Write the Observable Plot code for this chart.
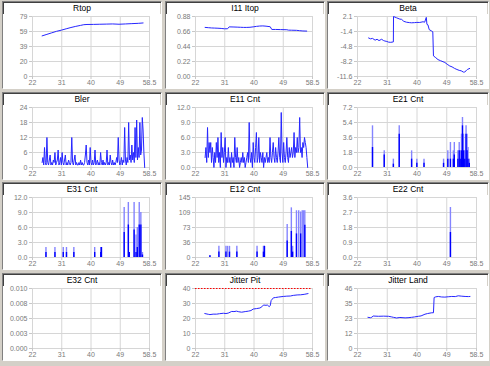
<!DOCTYPE html>
<html><head><meta charset="utf-8">
<script src="https://cdn.jsdelivr.net/npm/d3@7"></script>
<script src="https://cdn.jsdelivr.net/npm/@observablehq/plot@0.6"></script>
<style>
html,body{margin:0;padding:0;background:#d4d0c8;}
#root{position:relative;width:490px;height:366px;background:#d4d0c8;overflow:hidden;font-family:"Liberation Sans",Arial,sans-serif;}
.panel{position:absolute;background:#fff;box-sizing:border-box;border:1px solid;border-color:#808080 #ffffff #ffffff #808080;box-shadow:inset 1px 1px 0 #404040, inset -1px -1px 0 #d4d0c8;}
.title{height:12px;line-height:13px;font-size:8.5px;text-align:center;color:#000;}
.panel svg{display:block;}
</style></head><body><div id="root"></div>
<script>
// ---- axis labels ----
const xLabels = ["22", "31", "40", "49", "58.5"];
const xMin = 22, xMax = 58.5;

const titles = ["Rtop", "I11 Itop", "Beta", "Bler", "E11 Cnt", "E21 Cnt", "E31 Cnt", "E12 Cnt", "E22 Cnt", "E32 Cnt", "Jitter Pit", "Jitter Land"];
const yDomains = [[0, 79], [0, 0.88], [-11.6, 2.1], [0, 24], [0, 12], [0, 7.2], [0, 12], [0, 145], [0, 3.6], [0, 0.01], [0, 40], [0, 46]];
const yTickLabels = [
  ["0", "20", "39", "59", "79"],
  ["0.00", "0.22", "0.44", "0.66", "0.88"],
  ["-11.6", "-8.2", "-4.8", "-1.4", "2.1"],
  ["0", "6", "12", "18", "24"],
  ["0.0", "3.0", "6.0", "9.0", "12.0"],
  ["0.0", "1.8", "3.6", "5.4", "7.2"],
  ["0.0", "3.0", "6.0", "9.0", "12.0"],
  ["0", "36", "73", "109", "145"],
  ["0.0", "0.9", "1.8", "2.7", "3.6"],
  ["0.000", "0.003", "0.005", "0.008", "0.010"],
  ["0", "10", "20", "30", "40"],
  ["0", "12", "23", "35", "46"]
];

// ---- series ----
const rtopX = [25, 26.5, 28, 29.5, 31, 32.5, 34, 35.5, 37, 38, 39, 41, 43, 45, 47, 49, 51, 53, 55, 56.5];
const rtopY = [53.5, 55.5, 57.5, 59.5, 61, 62.8, 64.5, 66, 67.3, 68.2, 68.5, 68.6, 68.8, 69, 69.2, 68.8, 69.2, 69.6, 70, 70.5];

const itopX = [25, 26, 27, 28, 29, 30, 31, 32, 32.5, 34, 35, 36, 37, 38, 39, 40, 41, 42, 43, 44, 45.3, 45.8, 47, 48.5, 50.5, 51, 52, 53.5, 54.5, 55.5, 56.7];
const itopY = [0.72, 0.716, 0.712, 0.71, 0.708, 0.705, 0.70, 0.70, 0.728, 0.726, 0.724, 0.722, 0.72, 0.72, 0.722, 0.728, 0.735, 0.74, 0.742, 0.738, 0.73, 0.69, 0.69, 0.688, 0.686, 0.68, 0.679, 0.677, 0.672, 0.668, 0.666];

const betaX = [25.4, 26, 26.6, 27.4, 28, 28.6, 29.4, 30, 30.4, 31, 31.5, 32.2, 33, 33.05, 34, 35, 35.5, 36.2, 37, 38, 38.6, 39.5, 40.2, 41.1, 42.1, 42.6, 43.1, 43.3, 43.6, 44, 44.7, 45.1, 45.3, 46, 46.7, 47.5, 48.8, 49.5, 50.3, 51, 51.8, 52.5, 53.2, 53.8, 54.5, 54.9, 55.3, 55.7, 56.4];
const betaY = [-2.8, -3.0, -2.9, -3.3, -3.1, -3.4, -3.1, -3.4, -3.5, -3.6, -3.75, -3.8, -3.7, 2.1, 1.8, 1.5, 1.46, 1.0, 0.8, 0.7, 0.66, 0.7, 0.75, 0.74, 0.9, 0.8, 1.9, 0.3, 0.2, -0.9, -1.2, -1.4, -6.9, -7.3, -7.75, -8.0, -8.4, -8.8, -9.2, -9.4, -9.76, -10.0, -10.2, -10.3, -10.6, -10.56, -10.3, -10.0, -9.76];

const sampleStart = 25, sampleStep = 0.25;
const blerY = [2, 4, 1, 8, 2, 1, 12, 2, 1, 3, 5, 1, 2, 1, 3, 2, 6, 1, 2, 3, 7, 1, 2, 4, 1, 6, 2, 1, 3, 5, 1, 2, 1, 3, 2, 1, 2, 12, 2, 1, 3, 5, 1, 2, 1, 1, 2, 1, 3, 1, 2, 1, 1, 2, 5, 9, 2, 1, 3, 1, 8, 2, 1, 3, 1, 2, 7, 1, 2, 3, 1, 2, 1, 6, 2, 1, 3, 1, 2, 1, 2, 7, 1, 2, 1, 5, 2, 1, 3, 1, 2, 1, 2, 4, 2, 12, 3, 1, 2, 4, 1, 3, 2, 16, 3, 1, 4, 2, 18, 3, 5, 2, 9, 3, 6, 2, 16, 4, 19, 3, 8, 4, 18, 5, 7, 20, 15, 6, 0];
const e11Y = [2, 4, 1, 8, 2, 5, 3, 5, 1, 4, 2, 0, 3, 1, 5, 2, 6, 1, 3, 0, 7, 2, 4, 1, 3, 6, 0, 2, 1, 4, 1, 2, 0, 3, 1, 2, 0, 6, 2, 1, 4, 1, 2, 0, 1, 2, 1, 3, 1, 2, 0, 1, 2, 3, 1, 9, 2, 1, 3, 0, 5, 2, 1, 4, 7, 1, 2, 6, 1, 3, 2, 1, 3, 0, 2, 1, 2, 3, 1, 2, 1, 6, 2, 1, 3, 5, 2, 1, 4, 2, 1, 3, 6, 2, 1, 11, 3, 1, 5, 2, 1, 3, 6, 2, 1, 4, 2, 3, 4, 2, 3, 7, 2, 4, 3, 6, 3, 4, 10, 3, 4, 2, 5, 4, 6, 5, 4, 2, 0];

// spikes: position, full height, darker (overlapped) height
const e21X = [26.6, 30.2, 33.0, 34.8, 38.6, 40.2, 42.4, 48.4, 49.7, 50.5, 51.4, 51.7, 52.8, 53.2, 53.5, 53.9, 54.2, 54.5, 54.9, 55.3, 55.6, 55.9, 56.3];
const e21Top = [5.0, 2.0, 1.0, 5.0, 2.0, 1.0, 1.0, 1.0, 2.0, 3.0, 2.0, 3.0, 2.0, 3.0, 2.0, 4.0, 6.0, 4.0, 2.0, 5.0, 4.0, 2.4, 1.0];
const e21Dark = [2.4, 1.5, 0.4, 4.0, 1.0, 0.5, 0.5, 0.5, 1.0, 1.0, 1.0, 1.5, 1.0, 2.0, 1.0, 2.0, 5.0, 2.0, 1.0, 4.0, 2.0, 1.0, 0.5];

const e31X = [26.2, 29.0, 31.6, 32.6, 34.9, 41.4, 43.3, 43.5, 50.6, 51.9, 52.2, 53.7, 54.3, 54.7, 55.3, 55.8, 56.3];
const e31Top = [2, 2, 2, 2, 2, 2, 2, 2, 10, 11, 1, 11, 4.5, 6, 11, 9, 1];
const e31Dark = [1, 1, 1, 1, 1, 1, 1, 2, 5, 6.5, 1, 5.5, 1, 2, 6.5, 6.5, 0.5];

const e12X = [26.5, 29.3, 31.5, 32.0, 32.6, 34.9, 41.2, 43.2, 43.5, 50.6, 51.9, 52.3, 53.5, 54.2, 54.8, 55.3, 55.7, 56.1];
const e12Top = [4, 27, 27, 27, 27, 27, 27, 27, 27, 80, 120, 27, 113, 113, 110, 113, 113, 113];
const e12Dark = [4, 13, 13, 0, 13, 13, 13, 13, 27, 40, 63, 13, 57, 0, 57, 0, 0, 78];

const e22X = [50.5];
const e22Top = [3.0];
const e22Dark = [1.5];

const pitX = [24.9, 26, 26.5, 27.5, 28.6, 29.5, 30.7, 31.5, 32.2, 33.3, 34, 34.8, 35.5, 36.4, 37.5, 38.5, 39.3, 40, 41, 42.1, 42.7, 43.2, 44, 44.4, 45, 45.3, 45.6, 46.3, 47, 47.9, 49.4, 50.5, 51.6, 52.5, 53.7, 54.8, 55.9, 57.1];
const pitY = [23.3, 22.8, 22.6, 22.9, 22.9, 23.2, 23.5, 23.3, 23.6, 24.7, 24.6, 24.9, 24.5, 24.2, 24.6, 24.9, 25.3, 26.3, 26.6, 27, 27.8, 29, 28.8, 29, 27.9, 28.5, 32, 33.8, 34.0, 34.3, 34.7, 34.9, 35, 35.4, 35.7, 35.8, 36.1, 36.6];
const pitLimit = [40];

const landX = [25.2, 26, 26.4, 26.8, 28.4, 30, 31.5, 32.5, 33, 34, 35, 36.6, 37.5, 38.6, 39.5, 40.7, 41.5, 42.7, 43.5, 44.8, 45.3, 45.5, 46, 46.8, 47.8, 48.8, 50, 50.9, 52, 52.9, 54, 55, 56, 56.5];
const landY = [23.9, 23.6, 24.0, 24.9, 24.7, 24.8, 24.7, 24.2, 23.9, 23.4, 23.8, 23.5, 23.6, 23.9, 24.2, 24.7, 25.0, 26.3, 26.8, 27.4, 27.4, 39.1, 39.6, 39.9, 39.5, 39.4, 39.7, 39.9, 39.8, 40.4, 40.1, 39.9, 39.8, 39.9];

// ---- helpers ----
const LINE = "#2626ff";
const sampleX = blerY.map((_, i) => sampleStart + sampleStep * i);
const line = (xs, ys) => Plot.line(xs, {x: xs, y: ys, stroke: LINE, strokeWidth: 1});
const spikes = (xs, tops, darks) => [
  Plot.ruleX(xs, {x: xs, y1: 0, y2: tops, stroke: "#8484ff", strokeWidth: 1.4}),
  Plot.ruleX(xs, {x: xs, y1: 0, y2: darks, stroke: "#0000ff", strokeWidth: 1.4})
];

const dataMarks = [
  [line(rtopX, rtopY)],
  [line(itopX, itopY)],
  [line(betaX, betaY)],
  [line(sampleX, blerY)],
  [line(sampleX, e11Y)],
  spikes(e21X, e21Top, e21Dark),
  spikes(e31X, e31Top, e31Dark),
  spikes(e12X, e12Top, e12Dark),
  spikes(e22X, e22Top, e22Dark),
  [],
  [Plot.ruleY(pitLimit, {y: d => d, stroke: "#ff0000", strokeWidth: 1, strokeDasharray: "1.5,1.5"}), line(pitX, pitY)],
  [line(landX, landY)]
];

const colLeft = [2, 165, 327], colWidth = [160, 160, 162];
const rowTop = [1, 92, 182, 273], panelH = 88;
const root = document.getElementById("root");

titles.forEach((title, k) => {
  const r = Math.floor(k / 3), c = k % 3;
  const div = document.createElement("div");
  div.className = "panel";
  div.style.left = colLeft[c] + "px";
  div.style.top = rowTop[r] + "px";
  div.style.width = colWidth[c] + "px";
  div.style.height = panelH + "px";
  const t = document.createElement("div");
  t.className = "title";
  t.textContent = title;
  div.appendChild(t);

  const [y0, y1] = yDomains[k];
  const xpos = [0, 1, 2, 3, 4].map(j => xMin + j * (xMax - xMin) / 4);
  const ypos = [0, 1, 2, 3, 4].map(j => y0 + j * (y1 - y0) / 4);
  const labs = yTickLabels[k];
  const chart = Plot.plot({
    width: colWidth[c] - 2,
    height: panelH - 2 - 12,
    marginTop: 2, marginBottom: 12, marginLeft: 29, marginRight: 12,
    x: {domain: [xMin, xMax], label: null},
    y: {domain: [y0, y1], label: null},
    style: {fontFamily: '"Liberation Sans", Arial, sans-serif', fontSize: "7px", color: "#7a7a7a", background: "white", overflow: "visible"},
    marks: [
      Plot.gridX(xpos, {stroke: "#d6d6d6", strokeOpacity: 1}),
      Plot.gridY(ypos, {stroke: "#d6d6d6", strokeOpacity: 1}),
      Plot.axisX(xpos, {label: null, tickSize: 3, tickPadding: 1, stroke: "#c8c8c8", tickFormat: d => xLabels[Math.round((d - xMin) / ((xMax - xMin) / 4))]}),
      Plot.axisY(ypos, {label: null, tickSize: 3, tickPadding: 2, stroke: "#c8c8c8", tickFormat: d => labs[Math.round((d - y0) / ((y1 - y0) / 4))]}),
      ...dataMarks[k]
    ]
  });
  div.appendChild(chart);
  root.appendChild(div);
});
</script></body></html>
